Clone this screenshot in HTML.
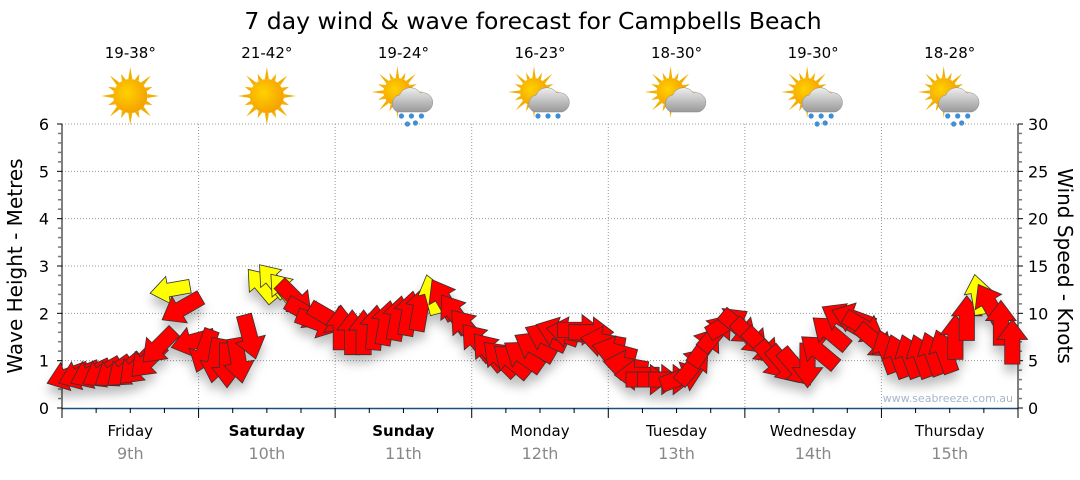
<!DOCTYPE html>
<html><head><meta charset="utf-8"><style>
body{margin:0;background:#fff;width:1080px;height:475px;overflow:hidden}
svg text{font-family:"DejaVu Sans","Liberation Sans",sans-serif}
</style></head><body>
<svg id="c" width="1080" height="475" xmlns="http://www.w3.org/2000/svg">
<defs>
<filter id="sh" x="-50%" y="-50%" width="200%" height="200%"><feDropShadow dx="0" dy="8" stdDeviation="5" flood-color="#000" flood-opacity="0.25"/></filter>
<radialGradient id="sun" cx="0.4" cy="0.4" r="0.7"><stop offset="0" stop-color="#ffd200"/><stop offset="1" stop-color="#f49a00"/></radialGradient>
<linearGradient id="cloud" x1="0" y1="0" x2="0" y2="1"><stop offset="0" stop-color="#eee"/><stop offset="1" stop-color="#999"/></linearGradient>
</defs>
<text x="533" y="29" font-size="23.5" text-anchor="middle" fill="#000">7 day wind &amp; wave forecast for Campbells Beach</text>
<g id="topg"></g>
<g id="grid"></g>
<g id="axes"></g>
<g id="marks" filter="url(#sh)"></g>
<text x="1013" y="402" font-size="11" text-anchor="end" fill="#a8b4c8">www.seabreeze.com.au</text>
<text transform="translate(22,266) rotate(-90)" font-size="20" text-anchor="middle">Wave Height - Metres</text>
<text transform="translate(1058,266) rotate(90)" font-size="20" text-anchor="middle">Wind Speed - Knots</text>
</svg>
<script>
const days=["Friday","Saturday","Sunday","Monday","Tuesday","Wednesday","Thursday"];
const dates=["9th","10th","11th","12th","13th","14th","15th"];
const boldDays=[false,true,true,false,false,false,false];
const temps=["19-38°","21-42°","19-24°","16-23°","18-30°","19-30°","18-28°"];
const weather=["sun","sun","rain","showers","cloud","rain","rain"];
const heights=[0.68,0.7,0.72,0.74,0.75,0.78,0.85,1.0,1.3,2.5,2.1,1.4,
1.2,1.0,0.9,1.0,1.5,2.6,2.7,2.5,2.3,2.0,1.8,1.9,
1.7,1.6,1.6,1.7,1.8,1.9,2.0,2.1,2.4,2.3,2.0,1.7,
1.4,1.2,1.05,1.0,1.1,1.3,1.5,1.6,1.6,1.65,1.6,1.4,
1.2,0.9,0.7,0.6,0.6,0.6,0.65,0.9,1.3,1.6,1.8,1.7,
1.5,1.3,1.0,0.9,0.85,0.9,1.2,1.6,1.9,1.9,1.7,1.4,
1.2,1.1,1.1,1.1,1.15,1.2,1.5,1.9,2.4,2.2,1.8,1.4];
const directions=[250,248,245,240,235,230,225,225,225,260,240,255,
200,190,180,170,165,320,320,320,135,120,110,120,
0,0,0,5,10,10,10,10,345,330,325,320,
320,320,315,310,305,300,295,290,280,90,90,280,
285,280,270,90,90,90,70,40,35,40,60,130,
135,135,140,140,140,180,310,310,300,290,120,130,
340,340,340,340,340,340,0,0,350,330,0,0];
const speeds=[14,14,14,14,14,15,15,15,15,8,16,16,
16,16,16,17,17,8,8,8,16,16,16,16,
16,16,16,16,16,16,16,16,8,16,16,16,
16,16,16,16,16,16,16,16,16,16,16,16,
16,16,16,15,15,15,16,16,16,16,16,16,
16,16,16,16,16,16,16,16,16,16,16,16,
16,16,16,16,16,16,16,16,8,16,16,16];
const yLeftTicks=[0,1,2,3,4,5,6];
const yRightTicks=[0,5,10,15,20,25,30];
const NS="http://www.w3.org/2000/svg";
const X0=62,X1=1018,Y0=408,Y1=124;
const dayW=(X1-X0)/7;
function xDay(d){return X0+d*dayW;}
function xIdx(i){return X0+(i+0.5)*dayW/12;}
function yM(v){return Y0-(v/6)*(Y0-Y1);}
function yK(v){return Y0-(v/30)*(Y0-Y1);}
function mk(tag,attrs,parent){const e=document.createElementNS(NS,tag);for(const k in attrs)e.setAttribute(k,attrs[k]);parent.appendChild(e);return e;}
const grid=document.getElementById('grid'),axes=document.getElementById('axes'),marks=document.getElementById('marks'),topG=document.getElementById('topg');
yLeftTicks.forEach(v=>{if(v>0){const l=mk('line',{x1:X0,x2:X1,y1:yM(v),y2:yM(v),stroke:'#999','stroke-dasharray':'1,2','stroke-width':1},grid);

}});
for(let d=1;d<7;d++){const l=mk('line',{x1:xDay(d),x2:xDay(d),y1:Y1,y2:Y0,stroke:'#999','stroke-dasharray':'1,2','stroke-width':1},grid);

}
mk('line',{x1:X0,x2:X0,y1:Y1,y2:Y0+1,stroke:'#000'},axes);
mk('line',{x1:X1,x2:X1,y1:Y1,y2:Y0+1,stroke:'#000'},axes);
mk('line',{x1:X0,x2:X1,y1:Y0+0.5,y2:Y0+0.5,stroke:'#1f4e79','stroke-width':1.5},axes);
for(let k=0;k<=30;k++){const v=k*0.2;const y=yM(v);const maj=k%5==0;mk('line',{x1:X0-(maj?5:4),x2:X0,y1:y,y2:y,stroke:maj?'#000':'#777','stroke-width':maj?1:1.5},axes);}
for(let v=0;v<=30;v++){const y=yK(v);const maj=v%5==0;mk('line',{x1:X1,x2:X1+(maj?5:4),y1:y,y2:y,stroke:maj?'#000':'#777','stroke-width':maj?1:1.5},axes);}
yLeftTicks.forEach(v=>{const t=mk('text',{x:X0-13,y:yM(v)+6,'font-size':16,'text-anchor':'end'},axes);t.textContent=v;

});
yRightTicks.forEach(v=>{const t=mk('text',{x:X1+10,y:yK(v)+6,'font-size':16},axes);t.textContent=v;

});
for(let q=0;q<=28;q++){const x=X0+q*dayW/4;mk('line',{x1:x,x2:x,y1:Y0,y2:Y0+(q%4==0?10:5),stroke:'#000'},axes);}
days.forEach((d,i)=>{const cx=xDay(i)+dayW/2;
const t=mk('text',{x:cx,y:436,'font-size':15,'text-anchor':'middle','font-weight':boldDays[i]?'bold':'normal'},axes);t.textContent=d;


const t2=mk('text',{x:cx,y:459,'font-size':16,'text-anchor':'middle',fill:'#888'},axes);t2.textContent=dates[i];


const t3=mk('text',{x:cx,y:58,'font-size':15,'text-anchor':'middle'},topG);t3.textContent=temps[i];


const g=mk('g',{transform:'translate('+cx+',96)'},topG);


const w=weather[i];const sx=w=='sun'?0:-6,sy=w=='sun'?0:-4,r=w=='sun'?17:14;
for(let a=0;a<16;a++){const ang=a*Math.PI/8;const L=(a%2?r+7:r+12);
const p1=[sx+Math.cos(ang-0.12)*r,sy+Math.sin(ang-0.12)*r],p2=[sx+Math.cos(ang)*L,sy+Math.sin(ang)*L],p3=[sx+Math.cos(ang+0.12)*r,sy+Math.sin(ang+0.12)*r];
mk('polygon',{points:p1+' '+p2+' '+p3,fill:'#f0b000'},g);}
mk('circle',{cx:sx,cy:sy,r:r,fill:'url(#sun)'},g);
if(w!='sun'){mk('path',{d:'M-6,16 a9,9 0 0 1 2,-17 a12,12 0 0 1 21,-2 a9,9 0 0 1 5,19 z',fill:'url(#cloud)',stroke:'#888','stroke-width':0.5},g);
if(w!='cloud'){[[-2,20],[8,20],[18,20],[4,28],[12,27]].slice(0,w=='rain'?5:3).forEach(p=>mk('circle',{cx:p[0],cy:p[1],r:2.6,fill:'#3a8fd8'},g));}}
});
heights.forEach((h,i)=>{const x=xIdx(i),y=yM(h),s=speeds[i];
const L=36+s*0.55,W=L*0.68,H=L*0.45,w=L*0.34;
const pts=[[0,-L/2],[W/2,-L/2+H],[w/2,-L/2+H],[w/2,L/2],[-w/2,L/2],[-w/2,-L/2+H],[-W/2,-L/2+H]].map(p=>p.join(',')).join(' ');
const a=mk('polygon',{points:pts,transform:'translate('+x.toFixed(1)+','+y.toFixed(1)+') rotate('+directions[i]+')',fill:s<10?'#ffff00':'#ff0000',stroke:'#333','stroke-width':0.8},marks);

});
</script>
</body></html>
